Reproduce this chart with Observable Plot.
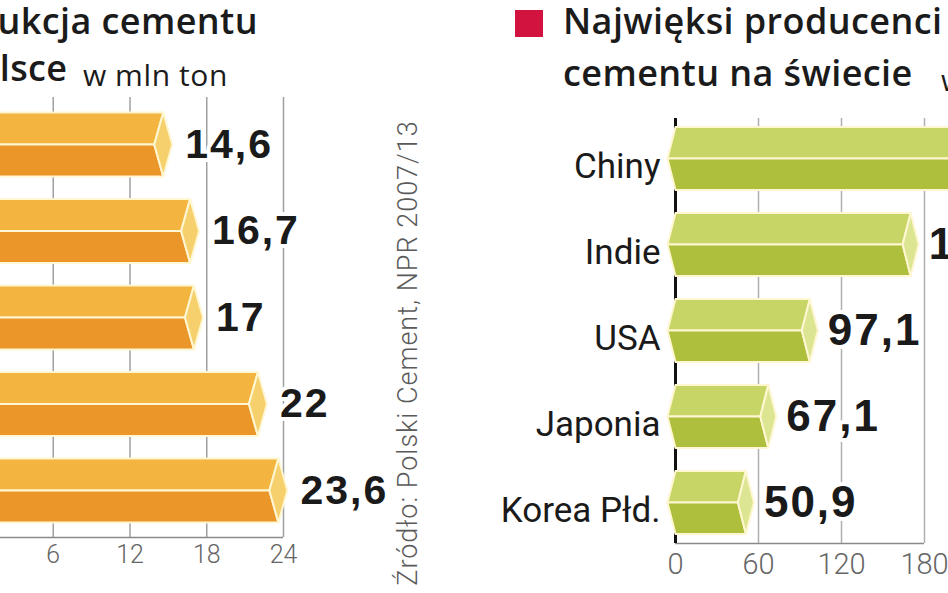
<!DOCTYPE html>
<html><head><meta charset="utf-8">
<script src="https://cdn.jsdelivr.net/npm/d3@7"></script>
<script src="https://cdn.jsdelivr.net/npm/@observablehq/plot@0.6"></script>
<style>
html,body{margin:0;padding:0;background:#fff;}
#wrap{position:relative;width:948px;height:593px;overflow:hidden;background:#fff;}
.t{position:absolute;white-space:nowrap;font-family:"Open Sans",sans-serif;color:#1b1b1b;line-height:1;font-size:36px;font-weight:600;letter-spacing:0.4px;}
.t span{font-weight:400;font-size:30px;position:relative;top:5px;letter-spacing:0.6px;}
.src{position:absolute;white-space:nowrap;font-family:Roboto,sans-serif;font-weight:300;color:#5a5a5a;font-size:27px;letter-spacing:1px;line-height:1;}
#left, #right{position:absolute;top:0;}
#left{left:-60px;} #right{left:470px;}
.vals text{letter-spacing:2px;}
</style></head><body><div id="wrap">
<div class="t" style="right:690px;top:3px;">Produkcja cementu</div>
<div class="t" style="right:720px;top:50px;">w Polsce<span style="margin-left:7px"> w mln ton</span></div>
<div style="position:absolute;left:515px;top:10px;width:28px;height:27px;background:#D2123F"></div>
<div class="t" style="left:563px;top:3px;">Najwięksi producenci</div>
<div class="t" style="left:563px;top:55px;">cementu na świecie<span style="margin-left:20px"> w mln ton</span></div>
<div class="src" style="left:408px;top:353px;transform:translate(-50%,-50%) rotate(-90deg)">Źródło: Polski Cement, NPR 2007/13</div>
<div id="left"></div><div id="right"></div>
</div>
<script>
// Produkcja cementu w Polsce (mln ton) — kategorie odcięte na lewym brzegu
const polskaWartosci = [14.6, 16.7, 17, 22, 23.6];
const polskaTicks = [6, 12, 18, 24];
// Najwięksi producenci cementu na świecie (mln ton)
const kraje = ["Chiny", "Indie", "USA", "Japonia", "Korea Płd."];
const swiatWartosci = [1350, 170, 97.1, 67.1, 50.9];
const swiatTicks = [0, 60, 120, 180];

const fmt = v => String(v).replace(".", ",");

function prism(values, d, dl, h) {
  const upper = [], lower = [], cap = [];
  values.forEach((v, i) => {
    [[0, i - h], [v, i - h], [v - d, i], [-dl, i], [0, i - h]].forEach(([x, y]) => upper.push({x, y, id: i}));
    [[-dl, i], [v - d, i], [v, i + h], [0, i + h], [-dl, i]].forEach(([x, y]) => lower.push({x, y, id: i}));
    [[v, i - h], [v + d, i], [v, i + h], [v - d, i], [v, i - h]].forEach(([x, y]) => cap.push({x, y, id: i}));
  });
  return {upper, lower, cap};
}

const edge = "#FFF6D2";

// LEFT PANEL
{
  const yLo = -0.543, yHi = 4.543;
  const pxPerUnit = 307 / 24;
  const g = prism(polskaWartosci, 9 / pxPerUnit, 8 / pxPerUnit, 0.37);
  const rows = polskaWartosci.map((v, i) => ({v, i}));
  const plot = Plot.plot({
    width: 480, height: 593,
    marginLeft: 36, marginRight: 137, marginTop: 97, marginBottom: 56,
    x: {domain: [0, 24], ticks: polskaTicks, tickSize: 0, tickPadding: 8, label: null},
    y: {domain: [yLo, yHi], reverse: true, axis: null},
    style: {background: "transparent", maxWidth: "none", fontSize: "25px", fontFamily: "Roboto, sans-serif", fontWeight: 300, color: "#666"},
    marks: [
      Plot.ruleX(polskaTicks, {y1: yLo, y2: yHi, stroke: "#a0a0a0", strokeWidth: 1.5}),
      Plot.ruleY([yHi], {x1: -3, x2: 24, stroke: "#8a8a8a", strokeWidth: 1.5}),
      Plot.line(g.upper, {x: "x", y: "y", z: "id", fill: "#F3B540", stroke: edge, strokeWidth: 2}),
      Plot.line(g.lower, {x: "x", y: "y", z: "id", fill: "#EA9628", stroke: edge, strokeWidth: 2}),
      Plot.line(g.cap, {x: "x", y: "y", z: "id", fill: "#F6D06C", stroke: edge, strokeWidth: 2}),
      Plot.text(rows, {x: "v", y: "i", text: d => fmt(d.v), dx: 22, textAnchor: "start",
        fontSize: 41, fontWeight: 700, fontFamily: "Liberation Sans, Arial, sans-serif",
        fill: "#1a1a1a", stroke: "white", strokeWidth: 8, className: "vals"})
    ]
  });
  document.getElementById("left").appendChild(plot);
}

// RIGHT PANEL
{
  const yLo = -0.465, yHi = 4.477;
  const pxPerUnit = 249 / 180;
  const g = prism(swiatWartosci, 8 / pxPerUnit, 8 / pxPerUnit, 0.366);
  const rows = swiatWartosci.map((v, i) => ({v, i, k: kraje[i]}));
  const plot = Plot.plot({
    width: 600, height: 593,
    marginLeft: 205, marginRight: 146, marginTop: 118, marginBottom: 50,
    x: {domain: [0, 180], ticks: swiatTicks, tickSize: 0, tickPadding: 10, label: null},
    y: {domain: [yLo, yHi], reverse: true, axis: null},
    style: {background: "transparent", maxWidth: "none", fontSize: "29px", fontFamily: "Roboto, sans-serif", fontWeight: 300, color: "#666"},
    marks: [
      Plot.ruleX(swiatTicks.filter(t => t > 0), {y1: yLo, y2: yHi, stroke: "#b0b0b0", strokeWidth: 1.5}),
      Plot.ruleY([yHi], {x1: 0, x2: 180, stroke: "#8a8a8a", strokeWidth: 1.5}),
      Plot.ruleX([0], {y1: yLo, y2: yHi, stroke: "#111", strokeWidth: 3}),
      Plot.line(g.upper, {x: "x", y: "y", z: "id", fill: "#C7D567", stroke: edge, strokeWidth: 2}),
      Plot.line(g.lower, {x: "x", y: "y", z: "id", fill: "#AEBE3D", stroke: edge, strokeWidth: 2}),
      Plot.line(g.cap, {x: "x", y: "y", z: "id", fill: "#DCE591", stroke: edge, strokeWidth: 2}),
      Plot.text(rows.filter(d => d.v <= 180), {x: "v", y: "i", text: d => fmt(d.v), dx: 18, textAnchor: "start",
        fontSize: 44, fontWeight: 700, fontFamily: "Liberation Sans, Arial, sans-serif",
        fill: "#1a1a1a", stroke: "white", strokeWidth: 8, className: "vals"}),
      Plot.text(rows, {x: 0, y: "i", text: "k", dx: -15, dy: 8, textAnchor: "end",
        fontSize: 35, fontWeight: 400, fontFamily: "Roboto, sans-serif", fill: "#1a1a1a"})
    ]
  });
  document.getElementById("right").appendChild(plot);
}
</script>
</body></html>
